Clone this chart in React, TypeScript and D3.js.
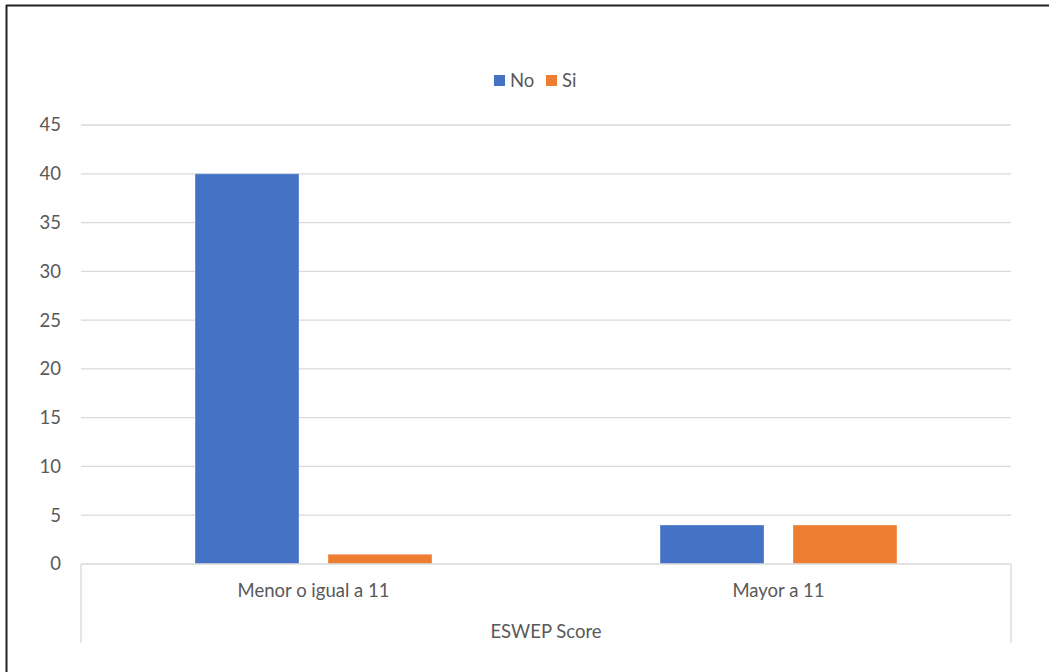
import React from "react";
import * as d3 from "d3";

const categories = ["Menor o igual a 11", "Mayor a 11"];
const seriesNames = ["No", "Si"];
const seriesNo = [40, 4];
const seriesSi = [1, 4];
const yTicks = [0, 5, 10, 15, 20, 25, 30, 35, 40, 45];
const axisTitle = "ESWEP Score";
const colors = ["#4472C4", "#ED7D31"];

const W = 1049;
const H = 672;
const left = 81;
const right = 1011;
const top = 125;
const bottom = 564;

export default function App() {
  const x = d3.scaleBand<string>().domain(categories).range([left, right]).paddingInner(0).paddingOuter(0);
  const inner = d3
    .scaleBand<string>()
    .domain(seriesNames)
    .range([x.bandwidth() * 0.2452, x.bandwidth() * 0.7548])
    .paddingInner(0.218);
  const y = d3.scaleLinear().domain([0, 45]).range([bottom, top]);
  const series = [seriesNo, seriesSi];
  const font = "Lato, 'Open Sans', sans-serif";
  const textColor = "#595959";
  const fs = 18.5;

  return (
    <div style={{ position: "absolute", left: 0, top: 0 }}>
      <svg width={W} height={H} style={{ display: "block" }}>
        <rect x={0} y={0} width={W} height={H} fill="#fff" />
        <line x1={6.5} x2={6.5} y1={5} y2={H} stroke="#222" strokeWidth={2} />
        <line x1={6} x2={W} y1={5.5} y2={5.5} stroke="#222" strokeWidth={2} />
        {yTicks.map((t) => (
          <g key={t}>
            {t !== 0 && (
              <line x1={left} x2={right} y1={y(t)} y2={y(t)} stroke="#d9d9d9" strokeWidth={1.3} />
            )}
            <text
              x={61}
              y={y(t)}
              dy="0.35em"
              textAnchor="end"
              fontFamily={font}
              fontSize={fs}
              fill={textColor}
            >
              {t}
            </text>
          </g>
        ))}
        {categories.map((c, ci) =>
          seriesNames.map((s, si) => {
            const v = series[si][ci];
            const bx = (x(c) ?? 0) + (inner(s) ?? 0);
            return (
              <rect
                key={c + s}
                x={bx}
                y={y(v)}
                width={inner.bandwidth()}
                height={y(0) - y(v)}
                fill={colors[si]}
                stroke="rgba(255,255,255,0.35)"
                strokeWidth={1}
              />
            );
          })
        )}
        <line x1={left} x2={right} y1={bottom} y2={bottom} stroke="#d9d9d9" strokeWidth={1.3} />
        <line x1={left} x2={left} y1={bottom} y2={643} stroke="#d9d9d9" strokeWidth={1.3} />
        <line x1={right} x2={right} y1={bottom} y2={643} stroke="#d9d9d9" strokeWidth={1.3} />
        {categories.map((c) => (
          <text
            key={c}
            x={(x(c) ?? 0) + x.bandwidth() / 2}
            y={591}
            dy="0.35em"
            textAnchor="middle"
            fontFamily={font}
            fontSize={fs}
            fill={textColor}
          >
            {c}
          </text>
        ))}
        <text
          x={(left + right) / 2}
          y={632}
          dy="0.35em"
          textAnchor="middle"
          fontFamily={font}
          fontSize={fs}
          fill={textColor}
        >
          {axisTitle}
        </text>
        {seriesNames.map((s, i) => {
          const lx = i === 0 ? 494 : 546;
          return (
            <g key={s}>
              <rect x={lx} y={75} width={11} height={11} fill={colors[i]} />
              <text x={lx + 16} y={81} dy="0.35em" fontFamily={font} fontSize={fs} fill={textColor}>
                {s}
              </text>
            </g>
          );
        })}
      </svg>
    </div>
  );
}
